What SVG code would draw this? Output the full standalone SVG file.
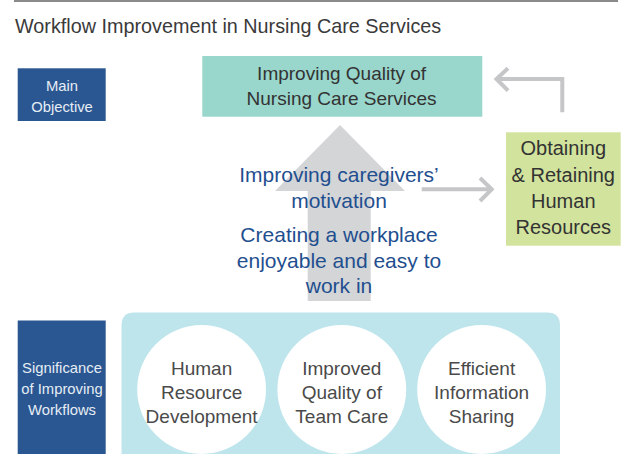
<svg xmlns="http://www.w3.org/2000/svg" width="627" height="454" viewBox="0 0 627 454">
<defs>
<style>
text{font-family:"Liberation Sans",Arial,sans-serif;text-anchor:middle}
.lbl{fill:#e6edf5;font-size:14.8px}
.dark{fill:#333333;font-size:19px}
.blue{fill:#1f4f8f;font-size:21px}
.circ{fill:#4a4a4a;font-size:19px}
.navy{fill:#2a5791}
.conn{fill:none;stroke:#c5c6c8;stroke-width:4}
</style>
</defs>
<rect x="14" y="0" width="604" height="2" fill="#8a8a8a"/>
<text x="15" y="33.3" style="text-anchor:start;font-size:19.8px;fill:#3a3a3a">Workflow Improvement in Nursing Care Services</text>

<g id="connectors">
<polygon points="340,125 405,191 370.7,191 370.7,301 307.7,301 307.7,191 275,191" fill="#d4d5d7"/>
<path class="conn" d="M421.7,189.3 H490 M480,178 L491.7,189.3 L480,201"/>
<path class="conn" d="M562.3,112.3 V79 H497 M508,68.3 L496.5,79 L508,90.7"/>
</g>

<g id="main-objective">
<rect class="navy" x="17.7" y="68.3" width="88" height="52.7"/>
<text class="lbl" x="62" y="91">Main</text>
<text class="lbl" x="62" y="111.7">Objective</text>
</g>

<g id="quality">
<rect x="202.3" y="56" width="280" height="60.7" fill="#99d6cc"/>
<text class="dark" x="341.6" y="80">Improving Quality of</text>
<text class="dark" x="341.6" y="105">Nursing Care Services</text>
</g>

<g id="motivation">
<text class="blue" x="339" y="181.7">Improving caregivers’</text>
<text class="blue" x="339" y="207.7">motivation</text>
<text class="blue" x="339" y="241.7">Creating a workplace</text>
<text class="blue" x="339" y="267.7">enjoyable and easy to</text>
<text class="blue" x="339" y="293.3">work in</text>
</g>

<g id="human-resources">
<rect x="506" y="132.3" width="114.7" height="113.4" fill="#d2e39e"/>
<text class="dark" x="563.3" y="155" style="font-size:20px">Obtaining</text>
<text class="dark" x="563.3" y="181.7" style="font-size:20px">&amp; Retaining</text>
<text class="dark" x="563.3" y="208.3" style="font-size:20px">Human</text>
<text class="dark" x="563.3" y="234.3" style="font-size:20px">Resources</text>
</g>

<g id="significance">
<rect class="navy" x="17.7" y="320.5" width="88" height="133.5"/>
<text class="lbl" x="62" y="373.3">Significance</text>
<text class="lbl" x="62" y="394.3">of Improving</text>
<text class="lbl" x="62" y="415">Workflows</text>
</g>

<g id="workflow-panel">
<path d="M121.5,454 V325.5 Q121.5,312.5 134.5,312.5 H547 Q560,312.5 560,325.5 V454 Z" fill="#bee5ec"/>
</g>

<g id="hr-development">
<circle cx="201.6" cy="389.5" r="64.4" fill="#ffffff"/>
<text class="circ" x="201.6" y="375">Human</text>
<text class="circ" x="201.6" y="399.3">Resource</text>
<text class="circ" x="201.6" y="422.7">Development</text>
</g>

<g id="team-care">
<circle cx="341.8" cy="389.5" r="64.4" fill="#ffffff"/>
<text class="circ" x="341.8" y="375">Improved</text>
<text class="circ" x="341.8" y="399.3">Quality of</text>
<text class="circ" x="341.8" y="422.7">Team Care</text>
</g>

<g id="info-sharing">
<circle cx="481.6" cy="389.5" r="64.4" fill="#ffffff"/>
<text class="circ" x="481.6" y="375">Efficient</text>
<text class="circ" x="481.6" y="399.3">Information</text>
<text class="circ" x="481.6" y="422.7">Sharing</text>
</g>
</svg>
